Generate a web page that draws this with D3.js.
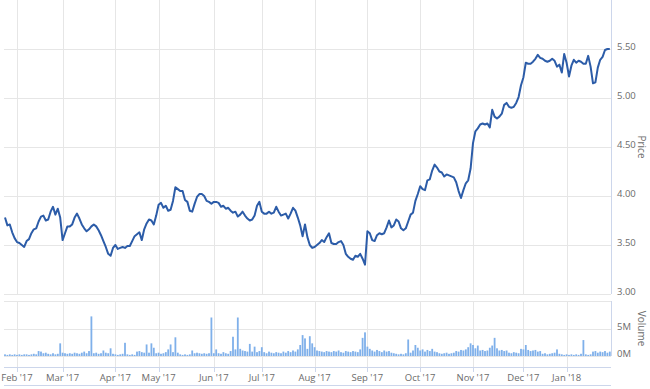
<!DOCTYPE html>
<html>
<head>
<meta charset="utf-8">
<script src="https://cdn.jsdelivr.net/npm/d3@7"></script>
<style>
	body { margin: 0; background: #fff; }
	svg { display: block; font-family: "Open Sans", "DejaVu Sans", sans-serif; }
</style>
</head>
<body>
<div id="my_dataviz"></div>
<script>
// daily closing price, one value per trading day (Jan '17 - Jan '18)
const price = [
	3.78, 3.70, 3.71, 3.63, 3.57, 3.53, 3.52, 3.50, 3.48, 3.54,
	3.56, 3.62, 3.66, 3.67, 3.74, 3.79, 3.80, 3.75, 3.76, 3.84,
	3.89, 3.81, 3.87, 3.78, 3.55, 3.62, 3.69, 3.69, 3.71, 3.78,
	3.82, 3.77, 3.71, 3.67, 3.64, 3.66, 3.69, 3.71, 3.69, 3.65,
	3.60, 3.54, 3.48, 3.41, 3.39, 3.47, 3.50, 3.46, 3.47, 3.48,
	3.47, 3.49, 3.49, 3.54, 3.59, 3.61, 3.63, 3.55, 3.66, 3.72,
	3.76, 3.75, 3.71, 3.80, 3.91, 3.93, 3.88, 3.90, 3.85, 3.86,
	3.95, 4.09, 4.07, 4.05, 4.05, 3.96, 3.94, 3.85, 3.84, 3.92,
	3.99, 4.02, 4.02, 4.00, 3.95, 3.94, 3.92, 3.94, 3.94, 3.93,
	3.89, 3.90, 3.87, 3.88, 3.85, 3.83, 3.84, 3.79, 3.81, 3.84,
	3.80, 3.77, 3.75, 3.76, 3.80, 3.90, 3.94, 3.84, 3.82, 3.82,
	3.84, 3.82, 3.83, 3.89, 3.84, 3.80, 3.81, 3.82, 3.77, 3.82,
	3.88, 3.85, 3.78, 3.70, 3.59, 3.71, 3.58, 3.50, 3.47, 3.48,
	3.50, 3.52, 3.55, 3.53, 3.58, 3.62, 3.52, 3.51, 3.51, 3.53,
	3.54, 3.50, 3.41, 3.38, 3.36, 3.35, 3.39, 3.38, 3.41, 3.36,
	3.30, 3.64, 3.62, 3.55, 3.54, 3.60, 3.62, 3.61, 3.62, 3.68,
	3.75, 3.68, 3.70, 3.76, 3.74, 3.67, 3.65, 3.67, 3.74, 3.81,
	3.83, 3.95, 4.02, 4.10, 4.07, 4.06, 4.16, 4.17, 4.26, 4.32,
	4.29, 4.25, 4.24, 4.20, 4.22, 4.21, 4.20, 4.19, 4.14, 4.05,
	3.98, 4.06, 4.13, 4.16, 4.28, 4.54, 4.66, 4.69, 4.73, 4.74,
	4.73, 4.74, 4.70, 4.88, 4.81, 4.79, 4.81, 4.84, 4.93, 4.95,
	4.91, 4.90, 4.91, 4.95, 5.01, 5.13, 5.21, 5.36, 5.35, 5.35,
	5.37, 5.40, 5.44, 5.41, 5.40, 5.38, 5.37, 5.38, 5.40, 5.38,
	5.32, 5.34, 5.26, 5.45, 5.36, 5.22, 5.33, 5.39, 5.36, 5.38,
	5.37, 5.35, 5.35, 5.43, 5.32, 5.15, 5.16, 5.31, 5.39, 5.42,
	5.49, 5.50, 5.50
];

// daily volume in millions of shares
const volume = [
	0.3, 0.2, 0.3, 0.2, 0.3, 0.2, 0.3, 0.2, 0.3, 0.3,
	0.2, 0.3, 0.4, 0.3, 0.9, 0.8, 0.5, 0.6, 0.4, 0.3,
	0.5, 0.3, 0.4, 2.3, 0.6, 0.5, 0.4, 0.5, 0.4, 0.6,
	0.5, 0.4, 0.6, 0.8, 0.5, 0.9, 7.2, 0.5, 0.6, 0.4,
	0.5, 1.0, 0.6, 0.5, 1.4, 0.4, 0.3, 0.2, 0.3, 0.4,
	2.4, 0.3, 0.2, 0.3, 0.2, 0.8, 0.9, 0.7, 0.6, 2.1,
	0.6, 2.3, 1.5, 0.5, 0.6, 0.4, 0.5, 0.7, 1.2, 2.1,
	0.7, 3.4, 0.6, 0.3, 0.2, 0.3, 0.2, 0.3, 1.0, 0.5,
	0.6, 0.5, 0.4, 0.5, 0.4, 0.5, 7.0, 0.5, 1.2, 0.5,
	0.4, 0.7, 0.5, 0.4, 0.9, 3.5, 1.2, 7.0, 1.3, 1.0,
	0.9, 0.8, 2.2, 0.8, 1.7, 0.7, 0.9, 1.6, 0.7, 0.5,
	0.8, 0.6, 0.5, 0.7, 0.6, 0.5, 0.8, 0.6, 0.9, 0.7,
	1.0, 0.8, 1.2, 2.0, 3.8, 3.2, 1.3, 3.6, 2.3, 1.6,
	1.0, 0.9, 0.8, 0.7, 0.9, 0.8, 0.7, 0.9, 0.8, 1.0,
	0.7, 0.6, 0.9, 0.8, 0.7, 0.9, 0.8, 0.7, 1.2, 3.3,
	4.3, 1.7, 1.3, 1.0, 0.8, 1.1, 0.9, 0.7, 1.0, 0.8,
	0.9, 0.6, 0.5, 0.4, 0.3, 0.4, 0.3, 0.5, 3.0, 0.6,
	1.0, 2.0, 1.5, 1.0, 1.2, 0.8, 1.1, 0.9, 1.3, 0.8,
	0.7, 0.5, 0.4, 0.5, 0.6, 0.4, 0.5, 0.6, 0.9, 0.8,
	1.1, 1.0, 1.2, 1.6, 2.3, 2.0, 1.4, 1.9, 1.0, 1.1,
	0.9, 1.0, 1.5, 1.9, 3.3, 1.4, 1.0, 1.1, 0.9, 1.0,
	0.6, 0.5, 0.7, 0.6, 0.5, 1.3, 1.2, 2.0, 1.1, 0.9,
	1.0, 1.1, 0.8, 0.9, 0.4, 0.5, 0.3, 0.4, 0.5, 0.6,
	1.2, 0.4, 0.3, 0.2, 0.3, 0.2, 0.3, 0.2, 0.3, 0.2,
	0.4, 2.9, 0.3, 0.2, 0.3, 0.8, 0.9, 0.6, 0.8, 0.7,
	0.9, 0.6, 0.8
];

// first trading day of each month (index into the arrays above)
const monthLabels = ["Feb '17", "Mar '17", "Apr '17", "May '17", "Jun '17", "Jul '17",
	"Aug '17", "Sep '17", "Oct '17", "Nov '17", "Dec '17", "Jan '18"];
const monthIndex = [5, 24, 46, 64, 87, 107, 129, 151, 173, 195, 216, 234];

const priceTicks = [3.0, 3.5, 4.0, 4.5, 5.0, 5.5];
const volumeTicks = [0, 5, 10];

var width = 650, height = 389;
var left = 4, right = 611;
var priceTop = 0, priceBottom = 294;
var volTop = 301, volBottom = 356, axisY = 367;

var gridColor = "#e6e6e6", axisColor = "#ccd6eb", labelColor = "#6b6b6b";

var svg = d3
	.select("#my_dataviz")
	.append("svg")
	.attr("width", width)
	.attr("height", height);

var x = d3.scaleLinear().domain([0, price.length - 1]).range([5, 609.8]);
var yPrice = d3.scaleLinear().domain([3, 6]).range([priceBottom, priceTop]);
var yVol = d3.scaleLinear().domain([0, 10]).range([volBottom, volTop]);

// vertical month grid lines through both panes
var grid = svg.append("g");
grid.selectAll("line.vp")
	.data(monthIndex)
	.enter()
	.append("line")
	.attr("x1", function (d) { return Math.round(x(d)) + 0.5; })
	.attr("x2", function (d) { return Math.round(x(d)) + 0.5; })
	.attr("y1", priceTop)
	.attr("y2", priceBottom)
	.attr("stroke", gridColor);
grid.selectAll("line.vv")
	.data(monthIndex)
	.enter()
	.append("line")
	.attr("x1", function (d) { return Math.round(x(d)) + 0.5; })
	.attr("x2", function (d) { return Math.round(x(d)) + 0.5; })
	.attr("y1", volTop)
	.attr("y2", axisY)
	.attr("stroke", gridColor);

// horizontal grid lines
grid.selectAll("line.hp")
	.data(priceTicks)
	.enter()
	.append("line")
	.attr("x1", left)
	.attr("x2", right)
	.attr("y1", function (d) { return Math.round(yPrice(d)) + 0.5; })
	.attr("y2", function (d) { return Math.round(yPrice(d)) + 0.5; })
	.attr("stroke", gridColor);
grid.selectAll("line.hv")
	.data(volumeTicks)
	.enter()
	.append("line")
	.attr("x1", left)
	.attr("x2", right)
	.attr("y1", function (d) { return Math.round(yVol(d)) + 0.5; })
	.attr("y2", function (d) { return Math.round(yVol(d)) + 0.5; })
	.attr("stroke", gridColor);

// right hand axis lines
svg.append("line")
	.attr("x1", right + 0.5).attr("x2", right + 0.5)
	.attr("y1", priceTop).attr("y2", priceBottom)
	.attr("stroke", axisColor);
svg.append("line")
	.attr("x1", right + 0.5).attr("x2", right + 0.5)
	.attr("y1", volTop).attr("y2", volBottom)
	.attr("stroke", axisColor);

// price labels
svg.append("g")
	.selectAll("text")
	.data(priceTicks)
	.enter()
	.append("text")
	.attr("x", 617)
	.attr("y", function (d) { return yPrice(d) + 1; })
	.attr("font-size", 9.5)
	.attr("fill", labelColor)
	.text(function (d) { return d.toFixed(2); });

// volume labels (top one hidden)
svg.append("g")
	.selectAll("text")
	.data(volumeTicks.slice(0, 2))
	.enter()
	.append("text")
	.attr("x", 617)
	.attr("y", function (d) { return yVol(d) + 1; })
	.attr("font-size", 9.5)
	.attr("fill", labelColor)
	.text(function (d) { return d + "M"; });

svg.append("text")
	.attr("transform", "translate(638," + (priceBottom / 2) + ") rotate(90)")
	.attr("text-anchor", "middle")
	.attr("font-size", 10)
	.attr("fill", labelColor)
	.text("Price");

svg.append("text")
	.attr("transform", "translate(638," + ((volTop + volBottom) / 2) + ") rotate(90)")
	.attr("text-anchor", "middle")
	.attr("font-size", 10)
	.attr("fill", labelColor)
	.text("Volume");

// Volume bars
svg.append("g")
	.selectAll("rect")
	.data(volume)
	.enter()
	.append("rect")
	.attr("x", function (d, i) { return x(i) - 0.9; })
	.attr("y", function (d) { return yVol(d); })
	.attr("width", 1.8)
	.attr("height", function (d) { return volBottom - yVol(d); })
	.attr("fill", "#7fb0ea");

// Price line
var line = d3.line()
	.x(function (d, i) { return x(i); })
	.y(function (d) { return yPrice(d); });

svg.append("path")
	.datum(price)
	.attr("d", line)
	.attr("fill", "none")
	.attr("stroke", "#2c5ca8")
	.attr("stroke-width", 2)
	.attr("stroke-linejoin", "round");

// x axis
svg.append("line")
	.attr("x1", left).attr("x2", right)
	.attr("y1", axisY + 0.5).attr("y2", axisY + 0.5)
	.attr("stroke", axisColor);

svg.append("g")
	.selectAll("line")
	.data(monthIndex)
	.enter()
	.append("line")
	.attr("x1", function (d) { return Math.round(x(d)) + 0.5; })
	.attr("x2", function (d) { return Math.round(x(d)) + 0.5; })
	.attr("y1", axisY)
	.attr("y2", axisY + 5)
	.attr("stroke", axisColor);

svg.append("g")
	.selectAll("text")
	.data(monthIndex)
	.enter()
	.append("text")
	.attr("x", function (d) { return x(d); })
	.attr("y", 381)
	.attr("text-anchor", "middle")
	.attr("font-size", 9.5)
	.attr("fill", labelColor)
	.text(function (d, i) { return monthLabels[i]; });

svg.append("line")
	.attr("x1", left).attr("x2", right)
	.attr("y1", 385.5).attr("y2", 385.5)
	.attr("stroke", axisColor);
</script>
</body>
</html>
